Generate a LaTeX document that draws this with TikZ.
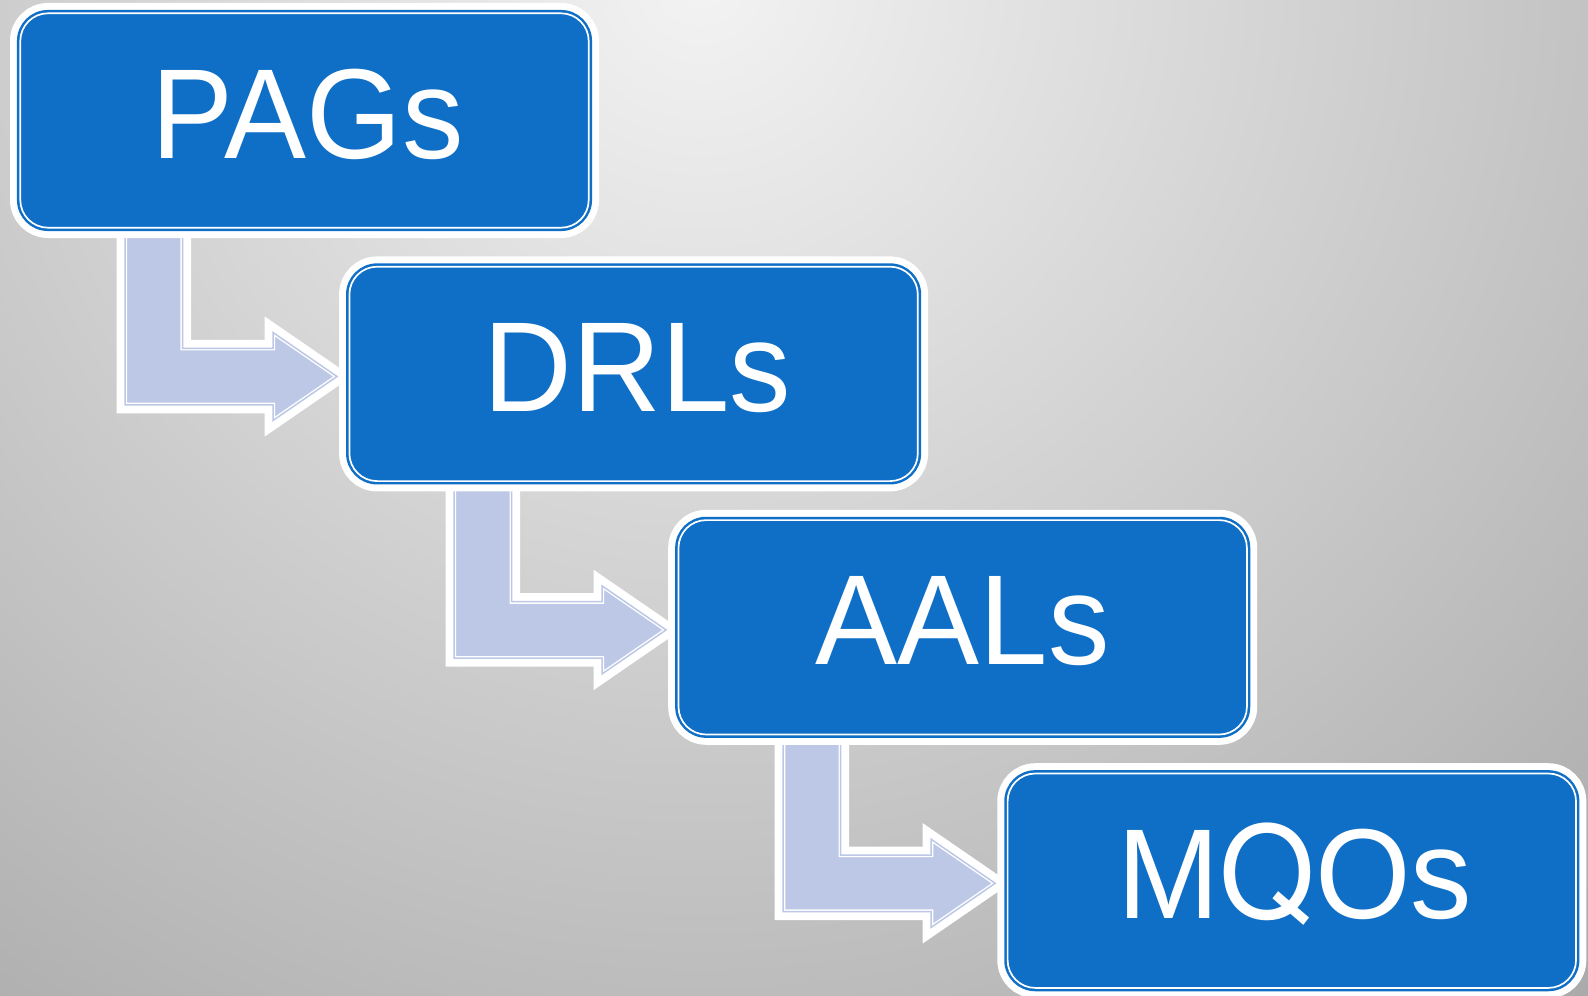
\documentclass[tikz,border=0pt]{standalone}
\usepackage{fontspec}
\setmainfont{Liberation Sans}[FakeStretch=0.96]
\newfontfamily\qfont{TeX Gyre Heros}[FakeStretch=0.96]
\usetikzlibrary{calc}
\definecolor{boxblue}{HTML}{0F6FC6}
\definecolor{arrowfill}{RGB}{188,200,230}
\definecolor{bgin}{RGB}{243,243,243}
\definecolor{bgout}{RGB}{170,170,170}
\pgfdeclarelayer{back}
\pgfdeclarelayer{mid}
\pgfsetlayers{back,mid,main}
\tikzset{
  stagebox/.style={rectangle, rounded corners=14.9pt, minimum width=286.3pt,
    minimum height=109.3pt, inner sep=0pt, outer sep=0pt, fill=boxblue,
    draw=boxblue, line width=1.25pt, preaction={draw=white, line width=8.2pt},
    text=white, font=\fontsize{64}{76}\selectfont, text height=37.5pt, text depth=0pt},
  innerline/.style={draw=white, line width=0.85pt, rounded corners=13.85pt},
  arrowouter/.style={draw=white, line width=8.5pt, line join=miter},
  arrowinner/.style={draw=white, line width=2.1pt},
  arrowedge/.style={draw=arrowfill, line width=0.75pt, line join=miter},
}
\newcommand\bentarrow[2]{%
  \coordinate (tip) at ($(#2.west)+(-10.3,2.6)$);
  \coordinate (a1) at ($(#1.center)+(-179.5,80)$);
  \coordinate (a2) at ($(#1.center)+(-122,80)$);
  \coordinate (a4) at ($(tip)+(-64,-28.25)$);
  \coordinate (a3) at (a2 |- a4);
  \coordinate (a5) at ($(tip)+(-64,-44)$);
  \coordinate (a6) at ($(tip)+(-64,44)$);
  \coordinate (a7) at ($(tip)+(-64,28.25)$);
  \coordinate (a8) at (a1 |- a7);
  \draw[arrowouter] (a1) -- (a2) -- (a3) -- (a4) -- (a5) -- (tip) -- (a6) -- (a7) -- (a8) -- cycle;
  \begin{scope}
    \clip (a1) -- (a2) -- (a3) -- (a4) -- (a5) -- (tip) -- (a6) -- (a7) -- (a8) -- cycle;
    \fill[arrowfill] (a1) -- (a2) -- (a3) -- (a4) -- (a5) -- (tip) -- (a6) -- (a7) -- (a8) -- cycle;
    \draw[arrowinner] (a1) -- (a2) -- (a3) -- (a4) -- (a5) -- (tip) -- (a6) -- (a7) -- (a8) -- cycle;
  \end{scope}
  \draw[arrowedge] (a1) -- (a2) -- (a3) -- (a4) -- (a5) -- (tip) -- (a6) -- (a7) -- (a8) -- cycle;
}
\begin{document}
\begin{tikzpicture}[x=0.5pt,y=-0.5pt]
\useasboundingbox (0,0) rectangle (1588,995);
\begin{pgfonlayer}{back}
  \begin{scope}
    \clip (0,0) rectangle (1588,995);
    \shade[inner color=bgin, outer color=bgout] (700,-20) circle (1350);
  \end{scope}
\end{pgfonlayer}
\node[stagebox] (b1) at (304.5,120.5) {\hspace{3pt}PAGs};
\node[stagebox] (b2) at (633.6,373.9) {\hspace{4pt}DRLs};
\node[stagebox] (b3) at (962.7,627.3) {AALs};
\node[stagebox] (b4) at (1291.8,880.7) {\hspace{3pt}M{\qfont Q}Os};
\foreach \b in {b1,b2,b3,b4}{
  \draw[innerline] ([shift={(1.05pt,1.05pt)}]\b.south west) rectangle ([shift={(-1.05pt,-1.05pt)}]\b.north east);
}
\begin{pgfonlayer}{mid}
  \bentarrow{b1}{b2}
  \bentarrow{b2}{b3}
  \bentarrow{b3}{b4}
\end{pgfonlayer}
\end{tikzpicture}
\end{document}
